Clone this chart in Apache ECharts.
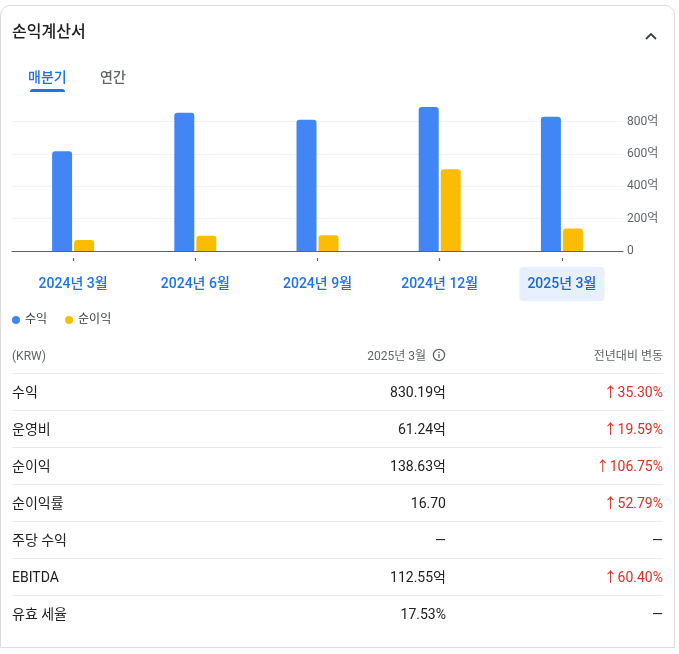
<!DOCTYPE html>
<html>
<head>
<meta charset="utf-8">
<script src="https://cdn.jsdelivr.net/npm/echarts@6/dist/echarts.min.js"></script>
<style>
  html, body { margin:0; padding:0; width:679px; height:654px; background:#fff; overflow:hidden;
    font-family: Roboto, "Noto Sans CJK KR", "Noto Sans", sans-serif; color:#202124; }
  #card { position:absolute; left:0; top:5px; width:675px; height:643px; border:1px solid #dadce0;
    border-radius:10px 10px 0 0; box-sizing:border-box; }
  #chart { position:absolute; left:0; top:0; width:679px; height:340px; }
  .abs { position:absolute; white-space:nowrap; }
  #title { left:12px; top:21px; font-size:16px; line-height:22px; color:#202124; font-weight:500; }
  #chev { left:644px; top:27px; }
  #tab1 { left:28px; top:67px; font-size:14px; line-height:20px; color:#1a73e8; font-weight:500; }
  #tab1u { left:30px; top:89px; width:35px; height:3px; background:#1a73e8; border-radius:3px 3px 0 0; }
  #tab2 { left:100px; top:67px; font-size:14px; line-height:20px; color:#5f6368; font-weight:500; }
  #tbl { position:absolute; left:12px; top:338px; width:651px; }
  .row { position:relative; height:37px; box-sizing:border-box; border-bottom:1px solid #e8eaed; font-size:14px; }
  .row span { position:absolute; top:0; line-height:37px; }
  .row .l { left:0; color:#202124; }
  .row .v { right:217px; color:#202124; }
  .row .c { right:0; color:#d93025; }
  .row .c.n { color:#202124; }
  .hdr { height:36px; font-size:12px; }
  .hdr span { line-height:36px; color:#5f6368 !important; }
  .last { border-bottom:none; }
</style>
</head>
<body>
<div id="card"></div>
<div id="chart"></div>
<div class="abs" id="title">손익계산서</div>
<div class="abs" id="chev"><svg width="14" height="12" viewBox="0 0 14 12"><path d="M2 9 L7 4 L12 9" fill="none" stroke="#3c4043" stroke-width="1.8"/></svg></div>
<div class="abs" id="tab1">매분기</div>
<div class="abs" id="tab1u"></div>
<div class="abs" id="tab2">연간</div>
<div id="tbl"></div>
<script>
// ---- data ----
const categories = ['2024년 3월', '2024년 6월', '2024년 9월', '2024년 12월', '2025년 3월'];
const revenue = [617, 855, 812, 890, 830.19];
const netIncome = [68, 95, 97, 505, 138.63];
const seriesNames = ['수익', '순이익'];
const yTickValues = [0, 200, 400, 600, 800];
const yTickLabels = ['0', '200억', '400억', '600억', '800억'];

const tableHeader = ['(KRW)', '2025년 3월', '전년대비 변동'];
const rowLabels = ['수익', '운영비', '순이익', '순이익률', '주당 수익', 'EBITDA', '유효 세율'];
const rowValues = ['830.19억', '61.24억', '138.63억', '16.70', '—', '112.55억', '17.53%'];
const rowChanges = ['35.30%', '19.59%', '106.75%', '52.79%', null, '60.40%', null];

// ---- table ----
const tbl = document.getElementById('tbl');
let html = '<div class="row hdr"><span class="l">' + tableHeader[0] + '</span>' +
  '<span class="v" style="right:217px;padding-right:0">' + tableHeader[1] +
  ' <svg width="14" height="14" viewBox="0 0 14 14" style="vertical-align:-2px;margin-left:3px"><circle cx="7" cy="7" r="5.6" fill="none" stroke="#5f6368" stroke-width="1.3"/><rect x="6.35" y="6" width="1.3" height="4" fill="#5f6368"/><rect x="6.35" y="3.7" width="1.3" height="1.3" fill="#5f6368"/></svg></span>' +
  '<span class="c">' + tableHeader[2] + '</span></div>';
rowLabels.forEach((lab, i) => {
  const ch = rowChanges[i];
  html += '<div class="row' + (i === rowLabels.length - 1 ? ' last' : '') + '"><span class="l">' + lab + '</span>' +
    '<span class="v">' + rowValues[i] + '</span>' +
    (ch ? '<span class="c">↑' + ch + '</span>' : '<span class="c n">—</span>') + '</div>';
});
tbl.innerHTML = html;

// ---- chart ----
const chart = echarts.init(document.getElementById('chart'), null, { renderer: 'canvas' });
const FONT = 'Roboto, "Noto Sans CJK KR", sans-serif';
const lastIdx = categories.length - 1;
const xData = categories.map((c, i) => ({
  value: c,
  textStyle: i === lastIdx
    ? { backgroundColor: '#e8f0fe', borderRadius: 4, color: '#1967d2' }
    : { backgroundColor: 'transparent' }
}));
chart.setOption({
  animation: false,
  textStyle: { fontFamily: FONT },
  grid: { left: 12, right: 56, top: 105.5, bottom: 89, containLabel: false },
  legend: {
    data: seriesNames, left: 7, top: 309, icon: 'circle', itemWidth: 8, itemHeight: 8, itemGap: 18,
    textStyle: { color: '#3c4043', fontSize: 12, fontFamily: FONT }
  },
  xAxis: [{
    type: 'category', data: xData, position: 'bottom',
    axisLine: { lineStyle: { color: '#5f6368', width: 1 } },
    axisTick: { show: false },
    axisLabel: { color: '#1a73e8', fontSize: 14, fontWeight: 500, margin: 16, padding: [10, 8], lineHeight: 14, fontFamily: FONT }
  }, {
    type: 'category', data: categories, position: 'bottom', offset: 7,
    axisLine: { show: false },
    axisTick: { show: true, alignWithLabel: true, length: 3, lineStyle: { color: '#5f6368', width: 1.2 } },
    axisLabel: { show: false }
  }],
  yAxis: {
    type: 'value', position: 'right', min: 0, max: 900, interval: 200,
    axisLine: { show: false }, axisTick: { show: false },
    splitLine: { lineStyle: { color: ['#f1f3f4', '#f1f3f4', '#f1f3f4', '#f1f3f4', '#f1f3f4', 'rgba(0,0,0,0)'] } },
    axisLabel: {
      color: '#5f6368', fontSize: 12, margin: 4, fontFamily: FONT,
      formatter: v => { const k = yTickValues.indexOf(v); return k >= 0 ? yTickLabels[k] : ''; }
    }
  },
  series: [{
    name: seriesNames[0], type: 'bar', data: revenue, barWidth: 20, barGap: '10%',
    itemStyle: { color: '#4285f4', borderRadius: [3, 3, 0, 0] }
  }, {
    name: seriesNames[1], type: 'bar', data: netIncome, barWidth: 20,
    itemStyle: { color: '#fbbc04', borderRadius: [3, 3, 0, 0] }
  }]
});
</script>
</body>
</html>
